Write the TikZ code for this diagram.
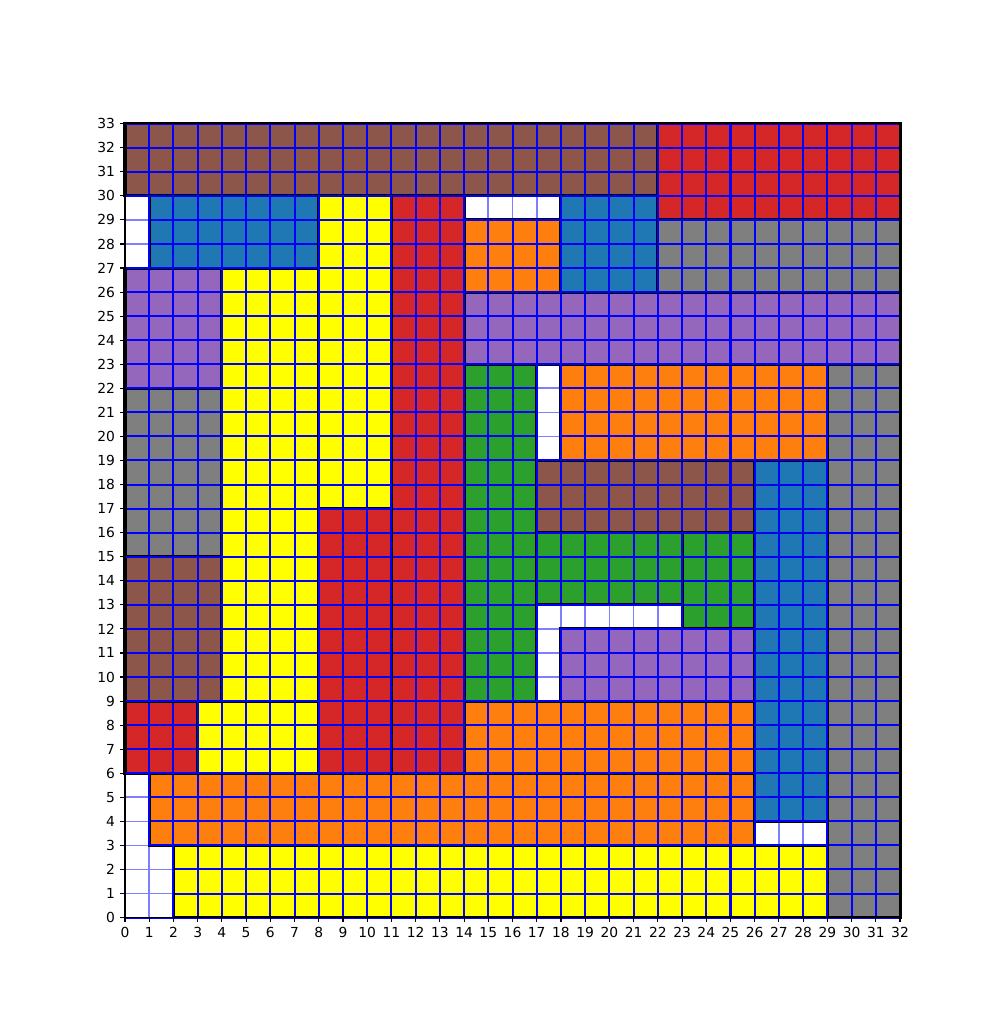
\documentclass[tikz,border=0pt]{standalone}
\usepackage{fontspec}
\setmainfont{DejaVu Sans}
\definecolor{tbrown}{HTML}{8C564B}
\definecolor{tred}{HTML}{D62728}
\definecolor{tblue}{HTML}{1F77B4}
\definecolor{torange}{HTML}{FF7F0E}
\definecolor{tgreen}{HTML}{2CA02C}
\definecolor{tpurple}{HTML}{9467BD}
\definecolor{tgray}{HTML}{7F7F7F}
\definecolor{tyellow}{HTML}{FFFF00}
\definecolor{gridblue}{HTML}{0000FF}
\definecolor{lightgrid}{HTML}{8080FF}
\tikzset{
  cell/.style={line width=2.2pt, draw=black, line join=miter},
  gridline/.style={draw=gridblue, line width=1.45pt},
  ticklab/.style={font=\fontsize{10}{12}\selectfont, inner sep=0pt},
  tickmark/.style={draw=black, line width=0.8pt}
}
\begin{document}
\begin{tikzpicture}[x=0.615156cm,y=0.61104cm]
\useasboundingbox (-5.1613,-4.7142) rectangle (36.129,38.142);
\def\rects{%
  tbrown/0/30/22/33, tred/22/29/32/33, tblue/1/27/8/30, tyellow/8/17/11/30,
  tred/11/6/14/30, torange/14/26/18/29, tblue/18/26/22/30, tgray/22/26/32/29,
  tpurple/0/22/4/27, tyellow/4/9/8/27, tpurple/14/23/32/26, tgreen/14/9/17/23,
  torange/18/19/29/23, tgray/29/0/32/23, tgray/0/15/4/22, tbrown/17/16/26/19,
  tblue/26/4/29/19, tred/8/6/11/17, tgreen/17/13/23/16, tgreen/23/12/26/16,
  tpurple/18/9/26/12, tbrown/0/9/4/15, tred/0/6/3/9, tyellow/3/6/8/9,
  torange/14/6/26/9, torange/1/3/26/6, tyellow/2/0/29/3}
% fills
\foreach \c/\xa/\ya/\xb/\yb in \rects {
  \fill[\c] (\xa,\ya) rectangle (\xb,\yb);
}
% grid
\foreach \i in {0,...,32} { \draw[gridline] (\i,0) -- (\i,33); }
\foreach \j in {0,...,33} { \draw[gridline] (0,\j) -- (32,\j); }
% white regions with lighter grid
\begin{scope}
  \clip (0,27) rectangle (1,30) (14,29) rectangle (18,30) (17,19) rectangle (18,23)
        (17,12) rectangle (23,13) (17,9) rectangle (18,12) (0,3) rectangle (1,6)
        (0,0) rectangle (2,3) (26,3) rectangle (29,4);
  \fill[white] (0,0) rectangle (32,33);
  \foreach \i in {0,...,32} { \draw[lightgrid, line width=1.2pt] (\i,0) -- (\i,33); }
  \foreach \j in {0,...,33} { \draw[lightgrid, line width=1.2pt] (0,\j) -- (32,\j); }
\end{scope}
% edges
\foreach \c/\xa/\ya/\xb/\yb in \rects {
  \draw[cell] (\xa,\ya) rectangle (\xb,\yb);
}
\foreach \c/\xa/\ya/\xb/\yb in \rects {
  \draw[gridline] (\xa,\ya) rectangle (\xb,\yb);
}
% spines
\draw[black, line width=0.8pt] (0,0) rectangle (32,33);
% ticks
\foreach \i in {0,...,32} {
  \draw[tickmark] (\i,0) -- ++(0,-3.5pt);
  \node[ticklab, anchor=north] (xl\i) at ([yshift=-7pt]\i,0) {\i};
}
\foreach \j in {0,...,33} {
  \draw[tickmark] (0,\j) -- ++(-3.5pt,0);
  \node[ticklab, anchor=east] (yl\j) at ([xshift=-7pt]0,\j) {\j};
}
\end{tikzpicture}
\end{document}
